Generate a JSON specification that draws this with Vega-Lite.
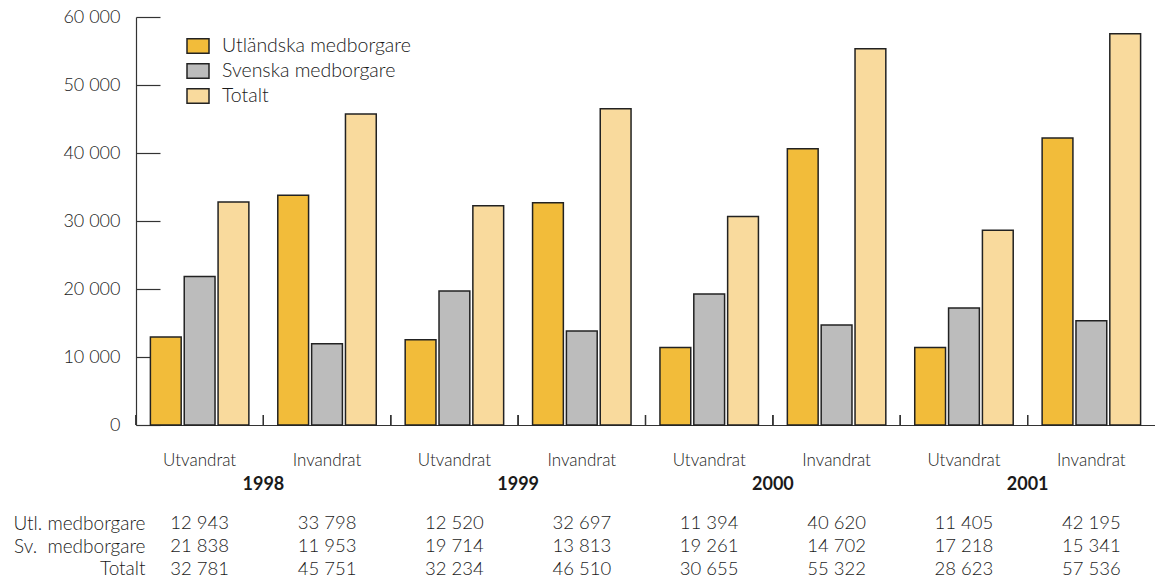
{
  "$schema": "https://vega.github.io/schema/vega-lite/v6.json",
  "padding": {"left": 13, "top": 8, "right": 0, "bottom": 0},
  "config": {
    "font": "Lato",
    "view": {"stroke": null},
    "locale": {"number": {"decimal": ",", "thousands": "\u00a0", "grouping": [3], "currency": ["", "\u00a0kr"]}},
    "axis": {"labelColor": "#1a1a1a", "domainColor": "#333", "tickColor": "#333", "domainWidth": 1.2, "tickWidth": 1.2, "grid": false, "labelFontWeight": 300}
  },
  "datasets": {
    "d": [
      {"year": "1998", "typ": "Utvandrat", "grupp": "1998 Utvandrat", "serie": "Utländska medborgare", "antal": 12943},
      {"year": "1998", "typ": "Utvandrat", "grupp": "1998 Utvandrat", "serie": "Svenska medborgare", "antal": 21838},
      {"year": "1998", "typ": "Utvandrat", "grupp": "1998 Utvandrat", "serie": "Totalt", "antal": 32781},
      {"year": "1998", "typ": "Invandrat", "grupp": "1998 Invandrat", "serie": "Utländska medborgare", "antal": 33798},
      {"year": "1998", "typ": "Invandrat", "grupp": "1998 Invandrat", "serie": "Svenska medborgare", "antal": 11953},
      {"year": "1998", "typ": "Invandrat", "grupp": "1998 Invandrat", "serie": "Totalt", "antal": 45751},
      {"year": "1999", "typ": "Utvandrat", "grupp": "1999 Utvandrat", "serie": "Utländska medborgare", "antal": 12520},
      {"year": "1999", "typ": "Utvandrat", "grupp": "1999 Utvandrat", "serie": "Svenska medborgare", "antal": 19714},
      {"year": "1999", "typ": "Utvandrat", "grupp": "1999 Utvandrat", "serie": "Totalt", "antal": 32234},
      {"year": "1999", "typ": "Invandrat", "grupp": "1999 Invandrat", "serie": "Utländska medborgare", "antal": 32697},
      {"year": "1999", "typ": "Invandrat", "grupp": "1999 Invandrat", "serie": "Svenska medborgare", "antal": 13813},
      {"year": "1999", "typ": "Invandrat", "grupp": "1999 Invandrat", "serie": "Totalt", "antal": 46510},
      {"year": "2000", "typ": "Utvandrat", "grupp": "2000 Utvandrat", "serie": "Utländska medborgare", "antal": 11394},
      {"year": "2000", "typ": "Utvandrat", "grupp": "2000 Utvandrat", "serie": "Svenska medborgare", "antal": 19261},
      {"year": "2000", "typ": "Utvandrat", "grupp": "2000 Utvandrat", "serie": "Totalt", "antal": 30655},
      {"year": "2000", "typ": "Invandrat", "grupp": "2000 Invandrat", "serie": "Utländska medborgare", "antal": 40620},
      {"year": "2000", "typ": "Invandrat", "grupp": "2000 Invandrat", "serie": "Svenska medborgare", "antal": 14702},
      {"year": "2000", "typ": "Invandrat", "grupp": "2000 Invandrat", "serie": "Totalt", "antal": 55322},
      {"year": "2001", "typ": "Utvandrat", "grupp": "2001 Utvandrat", "serie": "Utländska medborgare", "antal": 11405},
      {"year": "2001", "typ": "Utvandrat", "grupp": "2001 Utvandrat", "serie": "Svenska medborgare", "antal": 17218},
      {"year": "2001", "typ": "Utvandrat", "grupp": "2001 Utvandrat", "serie": "Totalt", "antal": 28623},
      {"year": "2001", "typ": "Invandrat", "grupp": "2001 Invandrat", "serie": "Utländska medborgare", "antal": 42195},
      {"year": "2001", "typ": "Invandrat", "grupp": "2001 Invandrat", "serie": "Svenska medborgare", "antal": 15341},
      {"year": "2001", "typ": "Invandrat", "grupp": "2001 Invandrat", "serie": "Totalt", "antal": 57536}
    ]
  },
  "data": {"name": "d"},
  "resolve": {"scale": {"x": "independent", "y": "independent"}},
  "spacing": 19,
  "vconcat": [
    {
      "width": 1019,
      "height": 408,
      "resolve": {"scale": {"x": "independent"}, "axis": {"x": "independent"}},
      "layer": [
        {
          "mark": {"type": "bar", "stroke": "#222", "strokeWidth": 1.5},
          "encoding": {
            "x": {
              "field": "grupp", "type": "nominal", "sort": null,
              "scale": {"paddingInner": 0.227, "paddingOuter": 0.113},
              "axis": {"orient": "bottom", "domain": true, "ticks": false, "labelPadding": 27,
                       "labelExpr": "substring(datum.label, 5)", "labelAngle": 0, "labelFontSize": 17, "title": null}
            },
            "xOffset": {
              "field": "serie", "type": "nominal",
              "sort": ["Utländska medborgare", "Svenska medborgare", "Totalt"],
              "scale": {"paddingInner": 0.09, "paddingOuter": 0}
            },
            "y": {
              "field": "antal", "type": "quantitative",
              "scale": {"domain": [0, 60000], "nice": false},
              "axis": {"values": [0, 10000, 20000, 30000, 40000, 50000, 60000], "format": ",d", "tickSize": -24, "labelPadding": 40,
                       "labelFontSize": 18, "title": null}
            },
            "color": {
              "field": "serie", "type": "nominal",
              "sort": ["Utländska medborgare", "Svenska medborgare", "Totalt"],
              "scale": {"domain": ["Utländska medborgare", "Svenska medborgare", "Totalt"], "range": ["#F2BC3A", "#BCBCBC", "#F9DA9D"]},
              "legend": {
                "title": null, "orient": "none", "legendX": 50, "legendY": 17,
                "symbolType": "M-1,-0.65H1V0.65H-1Z", "symbolSize": 484, "symbolStrokeColor": "#222", "symbolStrokeWidth": 1.5,
                "symbolOpacity": 1, "labelFontSize": 19.5, "labelFontWeight": 300, "labelColor": "#1a1a1a", "labelOffset": 12, "rowPadding": 2, "labelLimit": 400
              }
            }
          }
        },
        {
          "mark": {"type": "rule", "color": "#333", "strokeWidth": 1.2},
          "encoding": {
            "x": {
              "field": "grupp", "type": "nominal", "sort": null, "bandPosition": 0,
              "scale": {"type": "band", "paddingInner": 0, "paddingOuter": 0},
              "axis": null
            },
            "y": {"datum": 0, "type": "quantitative"},
            "y2": {"datum": 1470}
          }
        },
        {
          "mark": {"type": "rule", "opacity": 0},
          "encoding": {
            "x": {
              "field": "year", "type": "ordinal",
              "scale": {"type": "band", "paddingInner": 0, "paddingOuter": 0},
              "axis": {"orient": "bottom", "ticks": false, "domain": false, "labelPadding": 50, "labelFontWeight": "bold",
                       "labelFontSize": 18, "labelAngle": 0, "title": null}
            }
          }
        }
      ]
    },
    {
      "width": 1019,
      "height": 68,
      "mark": {"type": "text", "fontSize": 18.5, "fontWeight": 300, "color": "#1a1a1a"},
      "encoding": {
        "x": {
          "field": "grupp", "type": "nominal", "sort": null,
          "scale": {"paddingInner": 0.227, "paddingOuter": 0.113},
          "axis": null
        },
        "y": {
          "field": "serie", "type": "nominal",
          "sort": ["Utländska medborgare", "Svenska medborgare", "Totalt"],
          "scale": {"paddingInner": 0, "paddingOuter": 0},
          "axis": {"title": null, "ticks": false, "domain": false, "labelPadding": -9, "labelFontSize": 19,
                   "labelExpr": "datum.label == 'Utländska medborgare' ? 'Utl. medborgare' : datum.label == 'Svenska medborgare' ? 'Sv.\u00a0 medborgare' : datum.label"}
        },
        "text": {"field": "antal", "type": "quantitative", "format": ",d"}
      }
    }
  ]
}
